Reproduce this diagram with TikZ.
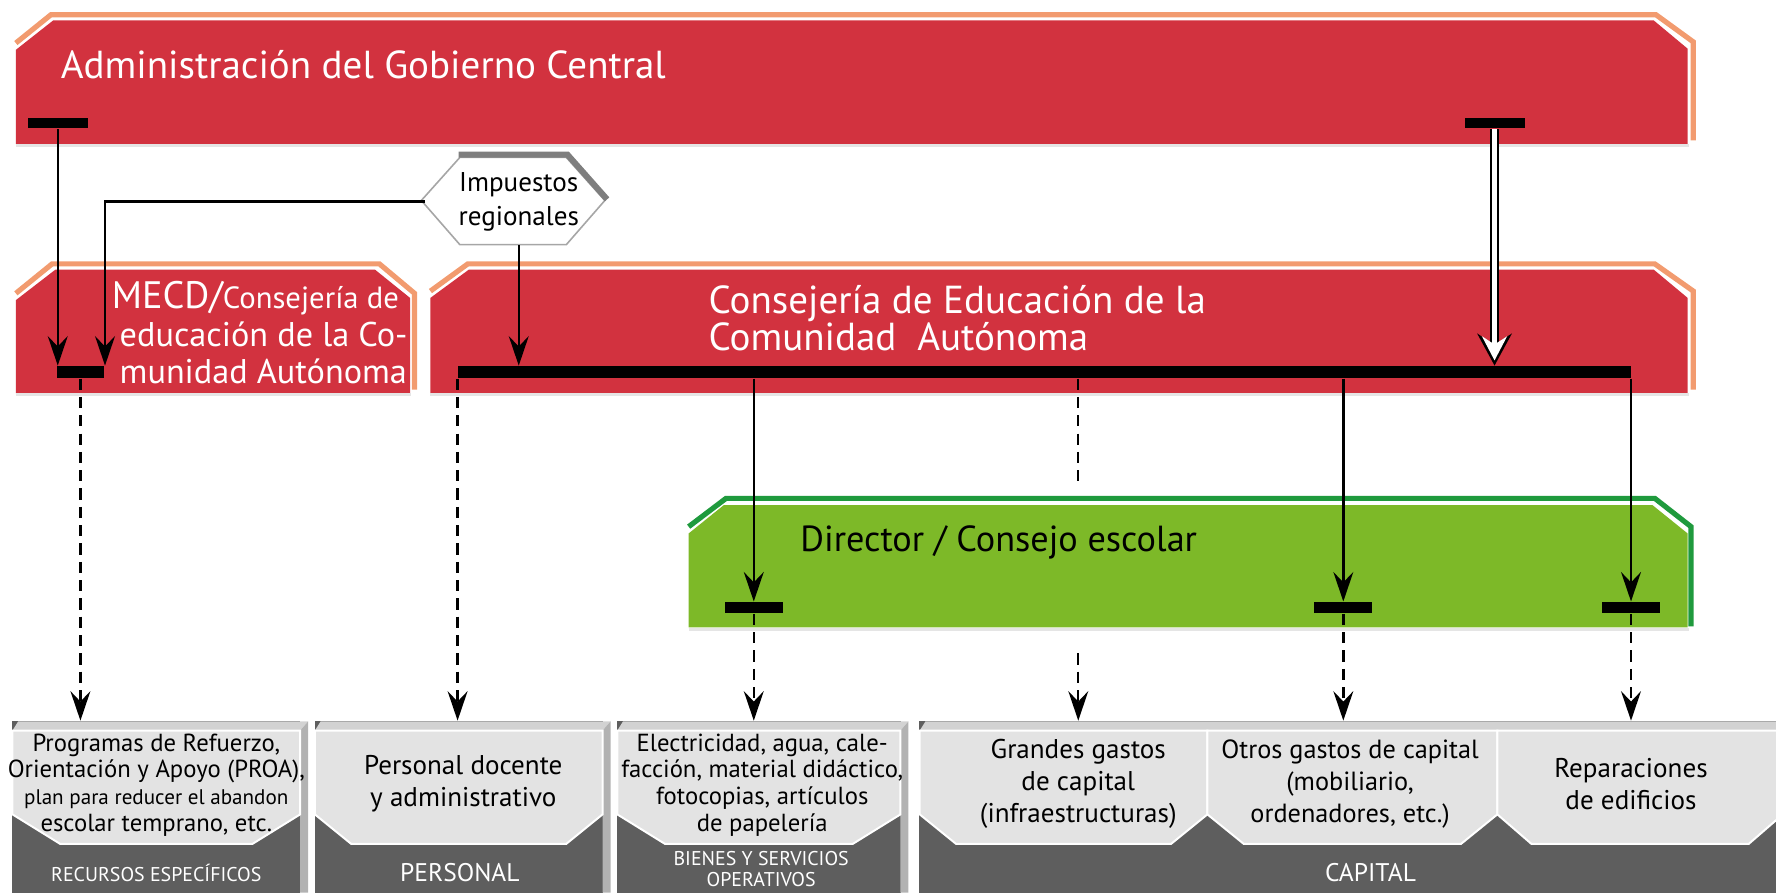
\documentclass[tikz,border=0pt]{standalone}
\usepackage{fontspec}
\setmainfont{PT Sans}
\usetikzlibrary{arrows.meta}

\definecolor{bandred}{HTML}{D2323F}
\definecolor{bandedge}{HTML}{F29B6F}
\definecolor{leaf}{HTML}{7DB928}
\definecolor{leafedge}{HTML}{1F9A3D}
\definecolor{paper}{HTML}{E3E3E3}
\definecolor{slate}{HTML}{5E5E5E}

\begin{document}
\begin{tikzpicture}[x=0.01cm, y=-0.01cm,
    bar/.style={fill=black, inner sep=0pt, minimum height=0.095cm},
    arr/.style={line width=0.6pt, -{Stealth[length=7.4pt, width=5pt, inset=2.6pt]}},
    dsh/.style={arr, dash pattern=on 2.8pt off 1.8pt},
    edge/.style={line width=1.3pt, line join=miter},
    face/.style={fill=slate, inner sep=0pt, minimum height=1.51cm},
    small/.style={font=\fontsize{6.2}{6.7}\selectfont, align=center},
    mid/.style={font=\fontsize{6.8}{8}\selectfont, align=center},
    tag/.style={font=\fontsize{5}{5.2}\selectfont, text=white, align=center},
    big/.style={font=\fontsize{9.8}{9.4}\selectfont, text=white, align=left, anchor=west, inner sep=0pt}]

    \path[use as bounding box, clip] (0,0) rectangle (1568,788);
    \newcommand{\boxbevel}[2]{
        \fill[gray!35] (#1,645) -- (#1+5,637) -- (#2+7,637) -- (#2,645) -- cycle;
        \fill[gray!60] (#2,645) -- (#2+7,637) -- (#2+7,788) -- (#2,788) -- cycle;}
    \newcommand{\paperface}[3]{
        \filldraw[fill=paper, draw=white, line width=0.5pt] (#1,645) -- (#2,645) -- (#2,719) -- (#2-#3,745) -- (#1+#3,745) -- (#1,719) -- cycle;}

    \node[face, minimum width=2.54cm] (recB) at (138,712.5) {};
    \node[face, minimum width=2.54cm] (perB) at (405,712.5) {};
    \node[face, minimum width=2.50cm] (bieB) at (670,712.5) {};
    \node[face, minimum width=7.68cm] (capB) at (1196,712.5) {};
    \boxbevel{11}{265} \boxbevel{278}{532} \boxbevel{545}{795} \boxbevel{812}{1580}
    \paperface{11}{265}{42} \paperface{278}{532}{32} \paperface{545}{795}{42}
    \paperface{812}{1066}{32} \paperface{1066}{1322}{32} \paperface{1322}{1574}{30}

    \node[small] (proa) at (138,693) {Programas de Refuerzo,\\Orientación y Apoyo (PROA),\\{\fontsize{5.3}{6.7}\selectfont plan para reducer el abandon}\\escolar temprano, etc.};
    \node[mid] (doc) at (409,692) {Personal docente\\y administrativo};
    \node[small] (luz) at (673,693) {Electricidad, agua, cale-\\facción, material didáctico,\\fotocopias, artículos\\de papelería};
    \node[mid] (gra) at (952,692) {Grandes gastos\\de capital\\(infraestructuras)};
    \node[mid, font=\fontsize{6.6}{8}\selectfont] (otr) at (1192,692) {Otros gastos de capital\\(mobiliario,\\ordenadores, etc.)};
    \node[mid] (rep) at (1440,692) {Reparaciones\\de edificios};

    \node[tag] (recT) at (138,771) {RECURSOS ESPECÍFICOS};
    \node[tag, font=\fontsize{6.4}{7}\selectfont] (perT) at (406,770) {PERSONAL};
    \node[tag] (bieT) at (672,767) {BIENES Y SERVICIOS\\OPERATIVOS};
    \node[tag, font=\fontsize{6.4}{7}\selectfont] (capT) at (1210,770) {CAPITAL};

    \draw[bandedge, edge] (14,38) -- (45,13) -- (1462,13) -- (1495,37) -- (1495,124);
    \fill[bandred] (14,44) -- (47,18) -- (1460,18) -- (1490,43) -- (1490,127) -- (14,127) -- cycle;
    \draw[gray!20, line width=0.8pt] (14,128.5) -- (1491,128.5);
    \node[big, anchor=base west] (gob) at (53,69) {Administración del Gobierno Central};
    \node[bar, minimum width=0.53cm] (gbarL) at (51,108.5) {};
    \node[bar, minimum width=0.53cm] (gbarR) at (1319.5,108.5) {};

    \draw[bandedge, edge] (14,259) -- (46,233) -- (335,233) -- (366,259) -- (366,344);
    \fill[bandred] (14,265) -- (49,238) -- (331,238) -- (362,263) -- (362,347) -- (14,347) -- cycle;
    \draw[gray!20, line width=0.8pt] (14,348.5) -- (363,348.5);
    \node[big, font=\fontsize{8.6}{9.4}\selectfont] (mecd) at (105,294) {\hspace*{-0.07cm}{\fontsize{9.6}{9.4}\selectfont MECD/}{\fontsize{7.7}{9.4}\selectfont Consejería de}\\educación de la Co-\\munidad Autónoma};
    \node[bar, minimum width=0.42cm, minimum height=0.1cm] (mbar) at (71,328.5) {};

    \draw[bandedge, edge] (380,257) -- (413,233) -- (1461,233) -- (1495,257) -- (1495,344);
    \fill[bandred] (380,263) -- (414,238) -- (1460,238) -- (1490,263) -- (1490,347) -- (380,347) -- cycle;
    \draw[gray!20, line width=0.8pt] (380,348.5) -- (1491,348.5);
    \node[big] (cons) at (625,281) {Consejería de Educación de la\\Comunidad\ \ Autónoma};
    \node[bar, minimum width=10.35cm, minimum height=0.1cm] (cbar) at (922.5,328.5) {};

    \draw[fill=white, draw=gray!70, line width=0.4pt] (372,177) -- (406,139) -- (500,139) -- (534,177) -- (500,216) -- (406,216) -- cycle;
    \draw[slate!80, line width=1.5pt] (405,136.5) -- (501,136.5) -- (536,176);
    \node[font=\fontsize{6.8}{8.5}\selectfont, align=center, minimum width=1.64cm, minimum height=0.76cm, inner sep=0pt] (imp) at (458,178) {Impuestos\\regionales};

    \draw[dsh] (gra.north |- cbar.south) -- (gra.north |- capB.north);

    \fill[white] (596,428) rectangle (1502,570);
    \draw[leafedge, edge] (608,465) -- (641,440) -- (1461,440) -- (1493,465) -- (1493,553);
    \fill[leaf] (608,471) -- (639,446) -- (1459,446) -- (1490,471) -- (1490,554) -- (608,554) -- cycle;
    \draw[gray!20, line width=0.8pt] (608,555.5) -- (1491,555.5);
    \node[font=\fontsize{9.1}{10}\selectfont, anchor=west, inner sep=0pt] (dir) at (706,479) {Director / Consejo escolar};
    \node[bar, minimum width=0.51cm] (dbar1) at (665.5,536.5) {};
    \node[bar, minimum width=0.51cm] (dbar2) at (1186,536.5) {};
    \node[bar, minimum width=0.51cm] (dbar3) at (1440,536.5) {};

    \draw[arr] (gbarL.south) -- (gbarL.south |- mbar.north);
    \draw[arr] (imp.west) -| (mbar.north east);
    \draw[arr] (imp.south) -- (imp.south |- cbar.north);
    \draw[line width=2.4pt, -{Stealth[length=8pt, width=8.6pt, inset=2.8pt]}] (gbarR.south) -- (gbarR.south |- cbar.north);
    \draw[white, line width=1.2pt, shorten >=1.3pt, -{Stealth[length=6pt, width=6.2pt, inset=2pt]}] (gbarR.south) -- (gbarR.south |- cbar.north);
    \draw[arr] (dbar1.north |- cbar.south) -- (dbar1.north);
    \draw[arr] (dbar2.north |- cbar.south) -- (dbar2.north);
    \draw[arr] (dbar3.north |- cbar.south) -- (dbar3.north);

    \draw[dsh] (mbar.south) -- (mbar.south |- recB.north);
    \draw[dsh] (cbar.south west) -- (cbar.south west |- perB.north);
    \draw[dsh] (dbar1.south) -- (dbar1.south |- bieB.north);
    \draw[dsh] (dbar2.south) -- (dbar2.south |- capB.north);
    \draw[dsh] (dbar3.south) -- (dbar3.south |- capB.north);
\end{tikzpicture}
\end{document}
